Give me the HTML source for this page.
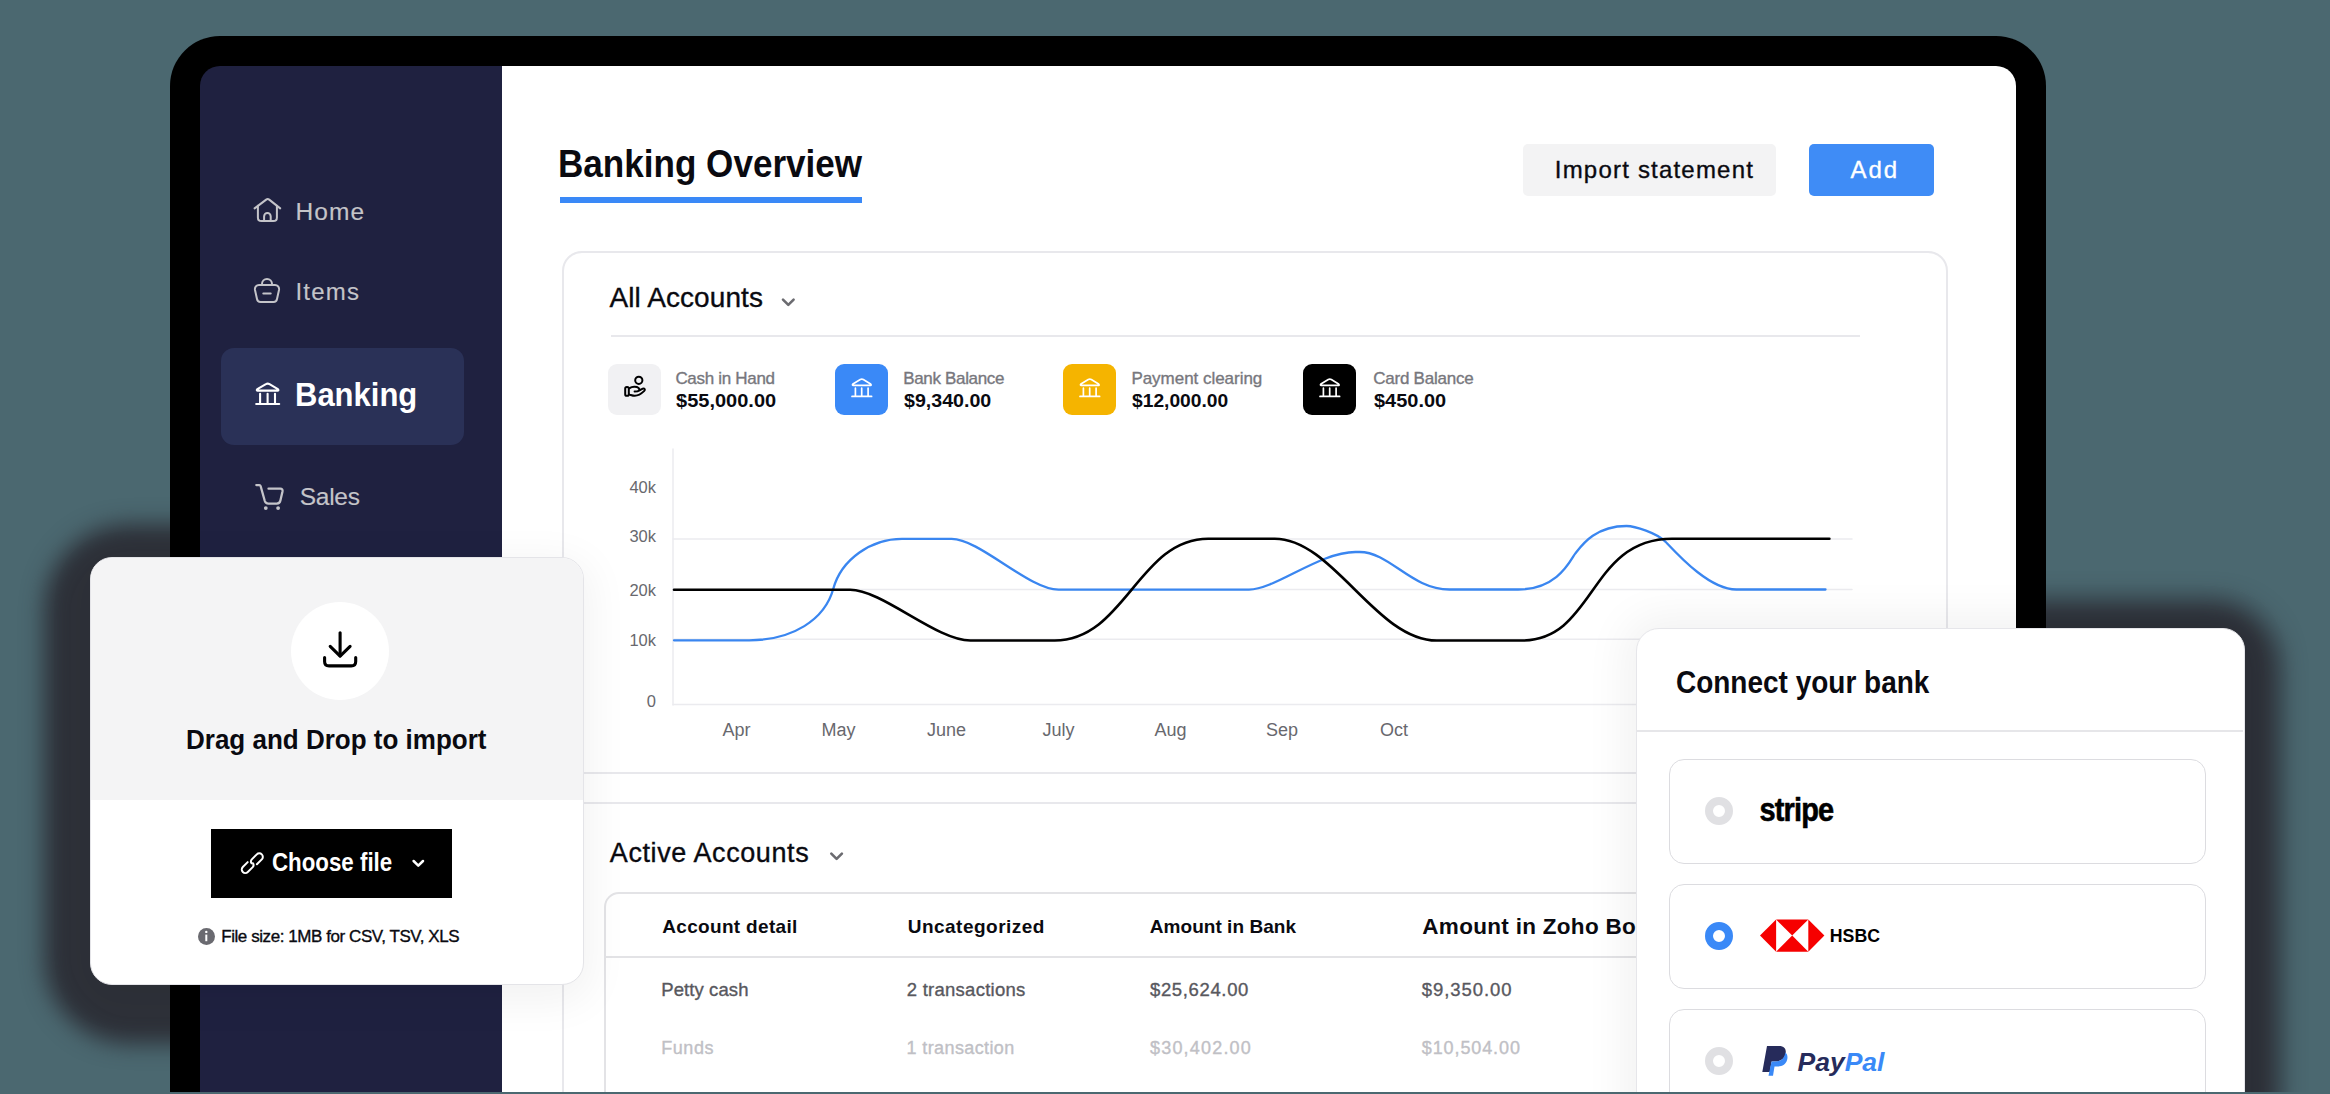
<!DOCTYPE html>
<html><head><meta charset="utf-8">
<style>
*{margin:0;padding:0;box-sizing:border-box}
html,body{width:2330px;height:1094px;overflow:hidden}
body{background:#4b6870;position:relative;font-family:"Liberation Sans",sans-serif;color:#000}
.a{position:absolute}
.t{position:absolute;white-space:nowrap;line-height:1}
svg{position:absolute;overflow:visible;left:0;top:0}
</style></head><body>
<!-- dark shadows over teal -->
<div class="a" id="dsh1" style="left:90px;top:557px;width:494px;height:428px;border-radius:40px;box-shadow:0 13px 22px 46px #2e3139;background:#2e3139"></div>
<div class="a" id="dsh2" style="left:1637px;top:628px;width:608px;height:500px;border-radius:36px;box-shadow:3px 4px 24px 32px #2e3139;background:#2e3139"></div>
<!-- device -->
<div class="a" id="frame" style="left:170px;top:36px;width:1876px;height:1100px;background:#000;border-radius:50px 50px 0 0"></div>
<div class="a" id="side" style="left:200px;top:66px;width:302px;height:1040px;background:#1f2140;border-radius:20px 0 0 0"></div>
<div class="a" id="main" style="left:502px;top:66px;width:1514px;height:1040px;background:#fff;border-radius:0 20px 0 0"></div>
<!-- sidebar -->
<div class="a" style="left:221px;top:348px;width:243px;height:97px;background:#2a3157;border-radius:13px"></div>
<div class="t" id="s-home" style="left:295.6px;top:200.3px;font-size:24.5px;letter-spacing:1.08px;color:#c4c4c9;-webkit-text-stroke:0.15px currentColor;">Home</div>
<div class="t" id="s-items" style="left:295.4px;top:279.7px;font-size:24.0px;letter-spacing:1.26px;color:#c4c4c9;-webkit-text-stroke:0.15px currentColor;">Items</div>
<div class="t" id="s-bank" style="left:295.2px;top:378.1px;font-size:33.0px;font-weight:bold;color:#fff;transform:scaleX(0.9392);transform-origin:0 0;">Banking</div>
<div class="t" id="s-sales" style="left:299.8px;top:484.8px;font-size:24.5px;letter-spacing:-0.29px;color:#c4c4c9;-webkit-text-stroke:0.15px currentColor;">Sales</div>
<svg width="2330" height="1094" viewBox="0 0 2330 1094" fill="none" stroke-linecap="round" stroke-linejoin="round">
 <g stroke="#c4c4c9" stroke-width="2">
  <path d="M254.6,208.4 L266.2,199.6 Q267.7,198.5 269.2,199.6 L280.2,208.4"/>
  <path d="M257.9,205.8 V217.5 Q257.9,221.1 261.5,221.1 H273.3 Q276.9,221.1 276.9,217.5 V205.8"/>
  <path d="M264.1,221.1 V216.4 A3.3,3.3 0 0 1 270.7,216.4 V221.1"/>
  <path d="M259,285 H275 C277.5,285 279.5,287 279,290 L277,299 C276.6,301 275.5,302 273.5,302 H260.5 C258.5,302 257.4,301 257,299 L255,290 C254.5,287 256.5,285 259,285 Z"/>
  <path d="M262,285 V284 A5,5 0 0 1 272,284 V285"/>
  <path d="M263.3,293.5 H270.7"/>
  <path stroke-width="2.3" d="M256.3,485.1 H259.4 Q260.3,485.1 260.6,486 L264.8,501 Q265.6,503.6 268.4,503.6 H276.8 Q279.8,503.6 280.4,500.6 L282.5,491.5 Q283,488.7 280.3,488.7 H268.5"/>
 </g>
 <g fill="#c4c4c9"><circle cx="265.8" cy="508.1" r="1.9"/><circle cx="278.1" cy="508.1" r="1.9"/></g>
 <g stroke="#fff" stroke-width="2.1">
  <path d="M257.4,390.6 Q256.2,390.6 257.3,389.1 L265.9,384.2 Q267.7,383.1 269.5,384.2 L277.9,389.1 Q279,390.6 277.8,390.6 Z"/>
  <path d="M260.1,393.8 V403.3 M267.6,393.8 V403.3 M275,393.8 V403.3"/>
  <path d="M256.2,404 H279.2"/>
 </g>
</svg>
<!-- header -->
<div class="t" id="h-title" style="left:558.4px;top:144.5px;font-size:38.0px;font-weight:bold;color:#0a0a10;transform:scaleX(0.9231);transform-origin:0 0;">Banking Overview</div>
<div class="a" style="left:560px;top:197px;width:302px;height:6px;background:#3a89f7"></div>
<div class="a" style="left:1523px;top:144px;width:253px;height:52px;background:#f3f3f4;border-radius:5px"></div>
<div class="t" id="h-import" style="left:1554.8px;top:157.7px;font-size:24.0px;letter-spacing:1.20px;color:#0a0a10;-webkit-text-stroke:0.35px currentColor;">Import statement</div>
<div class="a" style="left:1809px;top:144px;width:125px;height:52px;background:#3f8cf6;border-radius:5px"></div>
<div class="t" id="h-add" style="left:1850.4px;top:157.7px;font-size:24.0px;letter-spacing:2.05px;color:#fff;-webkit-text-stroke:0.35px currentColor;">Add</div>
<!-- card 1 -->
<div class="a" style="left:562px;top:251px;width:1386px;height:523px;border:2px solid #e8e8ec;border-radius:20px"></div>
<div class="t" id="c-all" style="left:609.5px;top:283.5px;font-size:28.0px;letter-spacing:0.08px;color:#0a0a10;-webkit-text-stroke:0.35px currentColor;">All Accounts</div>
<div class="a" style="left:611px;top:335px;width:1249px;height:2px;background:#e8e8ec"></div>
<!-- stats -->
<div class="a" style="left:608px;top:364px;width:53px;height:51px;background:#f1f1f3;border-radius:9px"></div>
<div class="a" style="left:835px;top:364px;width:53px;height:51px;background:#3a89f7;border-radius:9px"></div>
<div class="a" style="left:1063px;top:364px;width:53px;height:51px;background:#f5b400;border-radius:9px"></div>
<div class="a" style="left:1303px;top:364px;width:53px;height:51px;background:#000;border-radius:9px"></div>
<div class="t" id="l1" style="left:675.4px;top:369.9px;font-size:17.0px;letter-spacing:-0.31px;color:#77777d;-webkit-text-stroke:0.35px currentColor;">Cash in Hand</div><div class="t" id="v1" style="left:675.9px;top:392.7px;font-size:17.5px;font-weight:bold;color:#0a0a10;transform:scaleX(1.1434);transform-origin:0 0;">&#36;55,000.00</div><div class="t" id="l2" style="left:903.2px;top:369.9px;font-size:17.0px;letter-spacing:-0.33px;color:#77777d;-webkit-text-stroke:0.35px currentColor;">Bank Balance</div><div class="t" id="v2" style="left:904.1px;top:392.7px;font-size:17.5px;font-weight:bold;color:#0a0a10;transform:scaleX(1.1208);transform-origin:0 0;">&#36;9,340.00</div><div class="t" id="l3" style="left:1131.4px;top:369.9px;font-size:17.0px;letter-spacing:-0.03px;color:#77777d;-webkit-text-stroke:0.35px currentColor;">Payment clearing</div><div class="t" id="v3" style="left:1132.4px;top:392.7px;font-size:17.5px;font-weight:bold;color:#0a0a10;transform:scaleX(1.0983);transform-origin:0 0;">&#36;12,000.00</div><div class="t" id="l4" style="left:1373.2px;top:369.9px;font-size:17.0px;letter-spacing:-0.23px;color:#77777d;-webkit-text-stroke:0.35px currentColor;">Card Balance</div><div class="t" id="v4" style="left:1373.7px;top:392.7px;font-size:17.5px;font-weight:bold;color:#0a0a10;transform:scaleX(1.1406);transform-origin:0 0;">&#36;450.00</div>
<!-- chart + content icons -->
<svg width="2330" height="1094" viewBox="0 0 2330 1094" fill="none" stroke-linecap="round" stroke-linejoin="round">
 <g stroke="#000" stroke-width="2">
  <rect x="625.2" y="387" width="3.6" height="8.8" rx="1.6"/>
  <circle cx="638.8" cy="380.3" r="3.6"/>
  <path d="M629.6,388.2 C632,386.6 636.5,386.3 638.6,388 C640,389.2 639.6,390.8 637.6,391.2 L634.6,391.5"/>
  <path d="M639.5,390.3 L642.8,388.6 C644.4,387.9 645.6,389.6 644.3,390.9 C641.5,393.6 638.5,395.8 634.8,395.8 C632.8,395.8 631,395 629.6,394.6"/>
 </g>
 <g stroke="#fff" stroke-width="1.7" id="bk">
  <path d="M853,385.3 Q852,385.3 852.9,384 L860.3,379.6 Q861.8,378.7 863.3,379.6 L870.6,384 Q871.6,385.3 870.6,385.3 Z"/>
  <path d="M855.4,388.2 V396 M861.7,388.2 V396 M868.1,388.2 V396"/>
  <path d="M852,396.4 H871.6"/>
 </g>
 <use href="#bk" x="228"/>
 <use href="#bk" x="468"/>
 <g stroke="#6b6b70" stroke-width="2.6">
  <path d="M783,299.6 L788.3,304.9 L793.6,299.6"/>
  <path d="M831.3,853.6 L836.6,858.9 L841.9,853.6"/>
 </g>
 <g stroke="#ebebef" stroke-width="1.5">
  <line x1="673" y1="539" x2="1852" y2="539"/>
  <line x1="673" y1="589.5" x2="1852" y2="589.5"/>
  <line x1="673" y1="639.3" x2="1852" y2="639.3"/>
  <line x1="673" y1="704.5" x2="1852" y2="704.5"/>
  <line x1="673" y1="449" x2="673" y2="705"/>
 </g>
 <path d="M674,640.3 L749.2,640.3 C792.5,640.3 824.8,619.7 833.3,588.8 C841.4,559.3 871.1,538.9 902.0,538.9 L951.6,538.9 C979.7,538.9 1028.8,589.6 1058.6,589.6 L1249.0,589.6 C1275.2,589.6 1319.4,552.0 1355.4,552.0 L1359.7,552.0 C1389.7,552.0 1411.2,589.5 1449.4,589.5 L1518.1,589.5 C1558.7,589.5 1571.1,558.7 1575.2,553.6 C1581.4,545.8 1594.6,526.0 1626.5,526.0 L1626.5,526.0 C1634.5,526.0 1657.3,533.0 1666.0,542.2 C1679.9,556.9 1710.1,589.5 1736.3,589.5 L1825.5,589.5" stroke="#3a86f0" stroke-width="2.3"/>
 <path d="M674,589.8 L850.1,589.8 C882.4,589.8 936.2,640.5 970.4,640.5 L1054.7,640.5 C1125.0,640.5 1138.6,538.7 1208.2,538.7 L1274.7,538.7 C1333.1,538.7 1376.2,640.5 1436.6,640.5 L1521.4,640.5 C1595.9,640.5 1588.2,538.7 1672.0,538.7 L1829.4,538.7" stroke="#000" stroke-width="2.6"/>
 <g font-family="Liberation Sans" font-size="16.5" fill="#68686e" text-anchor="end" stroke="none">
  <text x="656" y="493">40k</text><text x="656" y="542">30k</text><text x="656" y="595.7">20k</text><text x="656" y="645.5">10k</text><text x="656" y="707">0</text>
 </g>
 <g font-family="Liberation Sans" font-size="18" fill="#68686e" text-anchor="middle" stroke="none">
  <text x="736.6" y="735.7">Apr</text><text x="838.4" y="735.7">May</text><text x="946.6" y="735.7">June</text><text x="1058.4" y="735.7">July</text><text x="1170.4" y="735.7">Aug</text><text x="1282" y="735.7">Sep</text><text x="1394" y="735.7">Oct</text>
 </g>
</svg>
<!-- card 2 -->
<div class="a" style="left:562px;top:802px;width:1386px;height:400px;border:2px solid #e8e8ec;border-radius:20px"></div>
<div class="t" id="c-active" style="left:609.8px;top:840.2px;font-size:27.0px;letter-spacing:0.59px;color:#0a0a10;-webkit-text-stroke:0.35px currentColor;">Active Accounts</div>
<div class="a" style="left:604px;top:892px;width:1300px;height:300px;border:2px solid #e3e3e6;border-radius:15px"></div>
<div class="a" style="left:606px;top:956px;width:1296px;height:2px;background:#e3e3e6"></div>
<div class="t" id="th1" style="left:662.2px;top:917.1px;font-size:19.0px;letter-spacing:0.33px;font-weight:bold;color:#0a0a10;">Account detail</div><div class="t" id="th2" style="left:907.7px;top:917.1px;font-size:19.0px;letter-spacing:0.49px;font-weight:bold;color:#0a0a10;">Uncategorized</div><div class="t" id="th3" style="left:1149.8px;top:917.1px;font-size:19.0px;letter-spacing:0.04px;font-weight:bold;color:#0a0a10;">Amount in Bank</div>
<div class="t" style="left:1422.3px;top:915.5px;font-size:22.5px;letter-spacing:0.3px;font-weight:bold;color:#0a0a10">Amount in Zoho Books</div>
<div class="t" id="r1" style="left:661.2px;top:980.6px;font-size:18.5px;letter-spacing:0.10px;color:#58585e;-webkit-text-stroke:0.35px currentColor;">Petty cash</div><div class="t" id="r2" style="left:906.8px;top:980.6px;font-size:18.5px;letter-spacing:0.25px;color:#58585e;-webkit-text-stroke:0.35px currentColor;">2 transactions</div><div class="t" id="r3" style="left:1150.0px;top:980.6px;font-size:18.5px;letter-spacing:0.64px;color:#58585e;-webkit-text-stroke:0.35px currentColor;">&#36;25,624.00</div><div class="t" id="r4" style="left:1421.8px;top:980.6px;font-size:18.5px;letter-spacing:0.93px;color:#58585e;-webkit-text-stroke:0.35px currentColor;">&#36;9,350.00</div>
<div class="t" id="q1" style="left:661.2px;top:1038.7px;font-size:18.0px;letter-spacing:0.59px;color:#c0c0c5;-webkit-text-stroke:0.35px currentColor;">Funds</div><div class="t" id="q2" style="left:906.6px;top:1038.7px;font-size:18.0px;letter-spacing:0.38px;color:#c0c0c5;-webkit-text-stroke:0.35px currentColor;">1 transaction</div><div class="t" id="q3" style="left:1150.0px;top:1038.7px;font-size:18.0px;letter-spacing:1.19px;color:#c0c0c5;-webkit-text-stroke:0.35px currentColor;">&#36;30,402.00</div><div class="t" id="q4" style="left:1421.8px;top:1038.7px;font-size:18.0px;letter-spacing:0.89px;color:#c0c0c5;-webkit-text-stroke:0.35px currentColor;">&#36;10,504.00</div>
<!-- drag panel -->
<div class="a" id="drag" style="left:90px;top:557px;width:494px;height:428px;background:#fff;border:1.5px solid #e4e4e8;border-radius:22px;overflow:hidden;box-shadow:0 10px 40px 8px rgba(0,0,0,0.05)">
  <div class="a" style="left:0;top:0;width:100%;height:242px;background:#f4f4f5"></div>
</div>
<div class="a" style="left:291px;top:602px;width:98px;height:98px;border-radius:50%;background:#fff"></div>
<div class="t" id="d-title" style="left:185.5px;top:725.3px;font-size:28.5px;font-weight:bold;color:#0a0a10;transform:scaleX(0.9125);transform-origin:0 0;">Drag and Drop to import</div>
<div class="a" style="left:211px;top:829px;width:241px;height:69px;background:#000"></div>
<div class="t" id="d-choose" style="left:271.9px;top:849.8px;font-size:25.5px;font-weight:bold;color:#fff;transform:scaleX(0.8745);transform-origin:0 0;">Choose file</div>
<div class="a" style="left:197.8px;top:928px;width:17px;height:17px;border-radius:50%;background:#6a6a70"></div>
<div class="t" id="d-size" style="left:221.2px;top:927.8px;font-size:17.0px;letter-spacing:-0.43px;color:#0a0a10;-webkit-text-stroke:0.35px currentColor;">File size: 1MB for CSV, TSV, XLS</div>
<!-- connect panel -->
<div class="a" id="conn" style="left:1636px;top:628px;width:609px;height:500px;background:#fff;border:1px solid #e6e6ea;border-radius:23px 22px 0 0;box-shadow:0 0 44px 12px rgba(0,0,0,0.055)"></div>
<div class="t" id="k-title" style="left:1675.5px;top:667.0px;font-size:31.0px;font-weight:bold;color:#0a0a10;transform:scaleX(0.9023);transform-origin:0 0;">Connect your bank</div>
<div class="a" style="left:1637px;top:730px;width:606px;height:2px;background:#e6e6e9"></div>
<div class="a" style="left:1669px;top:759px;width:537px;height:105px;border:1.5px solid #dcdce0;border-radius:15px"></div>
<div class="a" style="left:1669px;top:884px;width:537px;height:105px;border:1.5px solid #dcdce0;border-radius:15px"></div>
<div class="a" style="left:1669px;top:1009px;width:537px;height:105px;border:1.5px solid #dcdce0;border-radius:15px"></div>
<div class="a" style="left:1705px;top:797px;width:28px;height:28px;border-radius:50%;border:8px solid #e0e0e3;background:#fff"></div>
<div class="a" style="left:1705px;top:922px;width:28px;height:28px;border-radius:50%;border:8px solid #3a89f7;background:#fff"></div>
<div class="a" style="left:1705px;top:1047px;width:28px;height:28px;border-radius:50%;border:8px solid #e0e0e3;background:#fff"></div>
<!-- panel icons -->
<svg width="2330" height="1094" viewBox="0 0 2330 1094" fill="none" stroke-linecap="round" stroke-linejoin="round">
 <g stroke="#000" stroke-width="3.1">
  <path d="M340.1,632.8 V655.8"/>
  <path d="M330.2,646.3 L340.1,656.2 L350.1,646.3"/>
  <path d="M324.6,657.6 V661.5 Q324.6,665.9 329,665.9 H351.3 Q355.7,665.9 355.7,661.5 V657.6"/>
 </g>
 <g stroke="#fff" stroke-width="2">
  <path d="M256.9,864.3 L261.8,859.4 A3.5,3.5 0 0 0 256.8,854.4 L251.8,859.4 Q250.2,861.2 251.5,863.3"/>
  <path d="M247.7,862.1 L242.8,867 A3.5,3.5 0 0 0 247.8,872 L252.7,867.1 Q254.3,865.3 253,863.2"/>
 </g>
 <path d="M413.6,861 L418.3,865.7 L423,861" stroke="#fff" stroke-width="2.5"/>
 <g stroke="#fff" stroke-width="2" stroke-linecap="butt"><path d="M206.3,934.6 V941.2"/></g>
 <circle cx="206.3" cy="931.9" r="1.2" fill="#fff"/>
 <!-- HSBC -->
 <polygon points="1760,935.6 1776.1,919.5 1776.1,951.7" fill="#f60000"/>
 <polygon points="1824.4,935.6 1808.3,919.5 1808.3,951.7" fill="#f60000"/>
 <polygon points="1776.1,919.5 1808.3,919.5 1792.2,935.6" fill="#f60000"/>
 <polygon points="1776.1,951.7 1808.3,951.7 1792.2,935.6" fill="#f60000"/>
 <text x="1829.8" y="942.3" font-family="Liberation Sans" font-weight="bold" font-size="19" fill="#000" textLength="50.2" lengthAdjust="spacingAndGlyphs">HSBC</text>
 <text x="1759.5" y="821" font-family="Liberation Sans" font-weight="bold" font-size="34" fill="#000" stroke="#000" stroke-width="0.6" textLength="73.7" lengthAdjust="spacingAndGlyphs" letter-spacing="-1">stripe</text>
 <!-- PayPal -->
 <path d="M1767,1046 H1779 C1785,1046 1786.5,1050 1785.5,1054 C1784.5,1059 1780.5,1061.5 1775,1061.5 H1771.6 L1769.8,1072 H1762.3 Z" fill="#262b5b"/>
 <path d="M1785.3,1052.5 C1787.5,1054 1787.8,1057 1787.2,1059.5 C1786,1064.5 1782,1066.5 1777,1066.5 H1774.5 L1773,1075.8 H1768.5 L1771.6,1061.5 H1775 C1780.5,1061.5 1784.5,1059 1785.3,1052.5 Z" fill="#3a89f7"/>
 <text x="1797.5" y="1071.3" font-family="Liberation Sans" font-weight="bold" font-style="italic" font-size="26.5" fill="#262b5b">Pay<tspan fill="#3a89f7">Pal</tspan></text>
</svg>
<!-- bottom strip -->
<div class="a" style="left:0;top:1092px;width:2330px;height:2px;background:#4b6870"></div>
</body></html>
